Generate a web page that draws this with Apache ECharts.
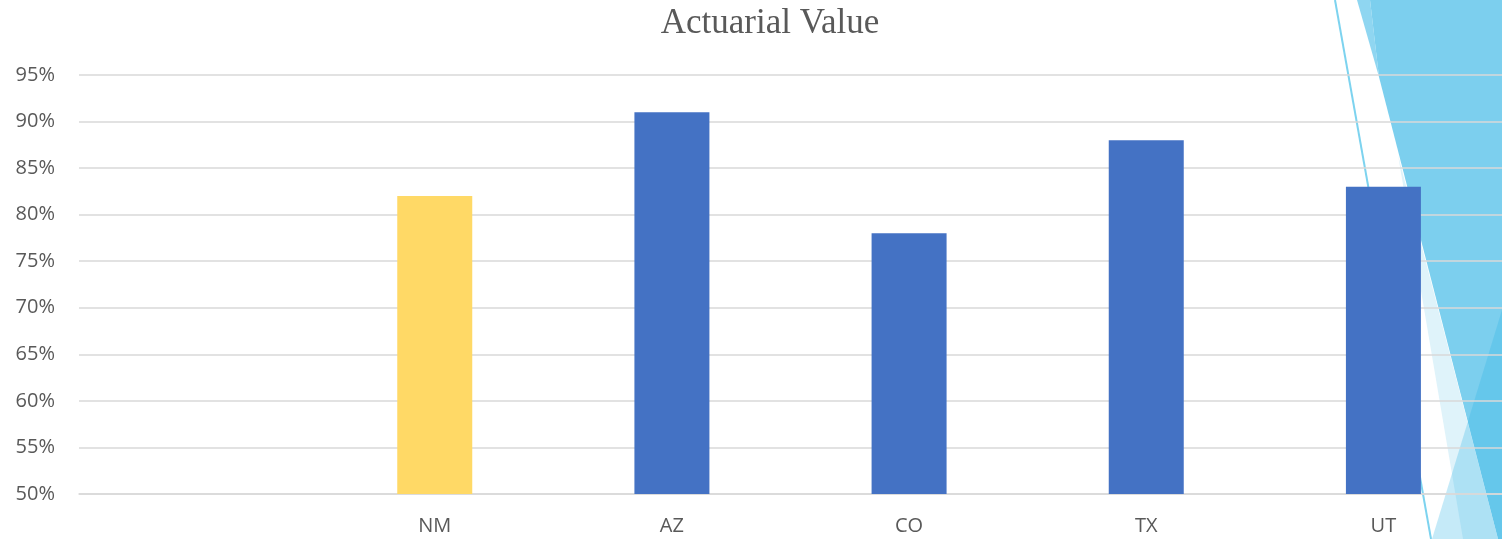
<!DOCTYPE html>
<html>
<head>
<meta charset="utf-8">
<script src="https://cdn.jsdelivr.net/npm/echarts@6/dist/echarts.min.js"></script>
<style>
html,body{margin:0;padding:0;background:#fff;}
#chart{width:1502px;height:539px;}
</style>
</head>
<body>
<div id="chart"></div>
<script>
var chartTitle = 'Actuarial Value';
var categories = ['', 'NM', 'AZ', 'CO', 'TX', 'UT'];
var values = [null, 82, 91, 78, 88, 83];
var barColors = ['#4472c4', '#ffd966', '#4472c4', '#4472c4', '#4472c4', '#4472c4'];
var yMin = 50, yMax = 95, yStep = 5;

var chart = echarts.init(document.getElementById('chart'));
var option = {
  animation: false,
  backgroundColor: '#ffffff',
  title: {
    text: chartTitle,
    left: 765,
    textAlign: 'center',
    top: 1,
    textStyle: {fontFamily: 'Liberation Serif', fontWeight: 'normal', fontSize: 35, color: '#595959'}
  },
  graphic: [
    {type: 'polygon', z: -10, shape: {points: [[1357,0],[1370,0],[1379,77]]}, style: {fill: '#8fd6f1'}},
    {type: 'polygon', z: -10, shape: {points: [[1370,0],[1502,0],[1502,539],[1498,539],[1379,77]]}, style: {fill: '#7ccfee'}},
    {type: 'polygon', z: -9, shape: {points: [[1398,155],[1498,539],[1463,539]]}, style: {fill: '#dff3fa'}},
    {type: 'polygon', z: -8, shape: {points: [[1432,539],[1502,539],[1502,310]]}, style: {fill: 'rgba(40,176,230,0.27)'}},
    {type: 'line', z: -8, shape: {x1: 1335, y1: 0, x2: 1431, y2: 539}, style: {stroke: '#7dd3ef', lineWidth: 2}}
  ],
  grid: {left: 79, top: 75, width: 1425, height: 419},
  xAxis: {
    type: 'category',
    data: categories,
    axisLine: {show: true, lineStyle: {color: '#d9d9d9', width: 1.5}},
    axisTick: {show: false},
    axisLabel: {margin: 22, fontFamily: 'Open Sans', fontSize: 20, color: '#595959'}
  },
  yAxis: {
    type: 'value',
    min: yMin, max: yMax, interval: yStep,
    axisLine: {show: false},
    axisTick: {show: false},
    axisLabel: {margin: 24, fontFamily: 'Open Sans', fontSize: 20, color: '#595959', formatter: '{value}%'},
    splitLine: {lineStyle: {color: '#d9d9d9', width: 1.5}}
  },
  series: [{
    type: 'bar',
    barWidth: 75,
    data: values.map(function (v, i) { return {value: v, itemStyle: {color: barColors[i]}}; })
  }]
};
chart.setOption(option);
</script>
</body>
</html>
